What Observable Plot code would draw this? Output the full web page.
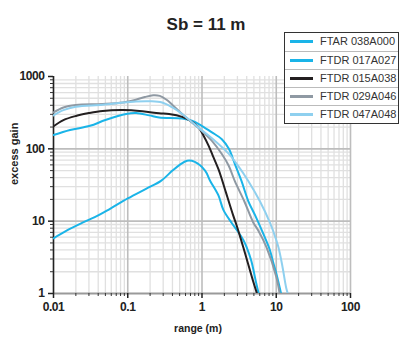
<!DOCTYPE html>
<html>
<head>
<meta charset="utf-8">
<script src="https://cdn.jsdelivr.net/npm/d3@7"></script>
<script src="https://cdn.jsdelivr.net/npm/@observablehq/plot@0.6"></script>
<style>
  html, body { margin: 0; padding: 0; background: #fff; }
  #wrap { position: relative; width: 401px; height: 344px; font-family: "Liberation Sans", Arial, Helvetica, sans-serif; }
  #wrap svg { display: block; }
  [aria-label$="tick label"] { letter-spacing: -0.4px; }
  #legend { position: absolute; left: 284px; top: 32px; width: 115px; background: #fff; border: 1px solid #333; box-sizing: border-box; }
  #legend .row { position: relative; height: 18px; border-top: 1px solid #bbb; box-sizing: border-box; }
  #legend .row:first-child { border-top: none; }
  #legend .sw { position: absolute; left: 5px; top: 7px; width: 23px; height: 3px; }
  #legend .lb { position: absolute; left: 35px; top: 2px; font-size: 11px; line-height: 13px; color: #333; white-space: nowrap; }
</style>
</head>
<body>
<div id="wrap"></div>
<script>
// ---- data ----
const seriesNames = ["FTAR 038A000", "FTDR 017A027", "FTDR 015A038", "FTDR 029A046", "FTDR 047A048"];
const seriesColors = ["#1ab4e8", "#1ab4e8", "#231f20", "#8f99a3", "#8fd0ef"];

const rangeFTAR038A000 = [0.01, 0.0167, 0.031, 0.05, 0.095, 0.13, 0.195, 0.265, 0.54, 0.73, 0.99, 1.36, 1.85, 2.3, 2.8, 3.4, 4.2, 5.2, 7, 8.2, 9, 10, 11.1, 11.6];
const gainFTAR038A000  = [155, 182, 208, 250, 303, 312, 290, 272, 263, 245, 208, 169, 136, 100, 60, 36, 19, 12, 6, 4, 2.8, 1.9, 1.22, 1];

const rangeFTDR017A027 = [0.01, 0.015, 0.025, 0.04, 0.057, 0.1, 0.176, 0.28, 0.4, 0.5, 0.63, 0.8, 1.1, 1.29, 1.67, 1.94, 2.5, 3.1, 3.6, 4.0, 4.6, 5.4, 5.8];
const gainFTDR017A027  = [5.8, 7.4, 9.6, 12, 14.7, 20.6, 28, 36, 50, 60, 68.5, 66, 50, 36, 22.5, 14.3, 9.5, 7, 5.5, 4.35, 2.85, 1.36, 1];

const rangeFTDR015A038 = [0.01, 0.0136, 0.02, 0.03, 0.046, 0.086, 0.158, 0.265, 0.36, 0.54, 0.7, 0.9, 1.05, 1.23, 1.4, 1.67, 1.85, 2.1, 2.63, 2.9, 3.6, 4.0, 4.86, 5.5];
const gainFTDR015A038  = [205, 250, 285, 312, 334, 343, 330, 310, 303, 277, 244, 198, 152, 110, 80, 52, 38, 25, 12, 9, 4.35, 3.0, 1.5, 1];

const rangeFTDR029A046 = [0.01, 0.0136, 0.02, 0.046, 0.086, 0.129, 0.17, 0.22, 0.27, 0.33, 0.4, 0.54, 0.73, 0.99, 1.36, 1.85, 2.3, 2.76, 3.7, 4.9, 5.7, 7.4, 10, 11.1];
const gainFTDR029A046  = [318, 373, 403, 416, 437, 478, 520, 550, 540, 480, 405, 303, 232, 178, 129, 85, 58, 36, 19, 9.6, 7.5, 4.35, 1.7, 1];

const rangeFTDR047A048 = [0.01, 0.0136, 0.02, 0.046, 0.086, 0.129, 0.2, 0.29, 0.4, 0.54, 0.73, 1, 1.36, 2.3, 3, 4.2, 6, 8.2, 10, 10.7, 12, 13.6, 14.3];
const gainFTDR047A048  = [290, 343, 381, 406, 437, 452, 455, 437, 373, 303, 235, 180, 140, 85, 60, 36, 19, 9.6, 5.5, 4.35, 2.5, 1.2, 1];

const xTickValues = [0.01, 0.1, 1, 10, 100];
const xTickLabels = ["0.01", "0.1", "1", "10", "100"];
const yTickValues = [1, 10, 100, 1000];
const yTickLabels = ["1", "10", "100", "1000"];
const titleText = "Sb = 11 m";
const xLabel = "range (m)";
const yLabel = "excess gain";

// ---- build ----
const ranges = [rangeFTAR038A000, rangeFTDR017A027, rangeFTDR015A038, rangeFTDR029A046, rangeFTDR047A048];
const gains = [gainFTAR038A000, gainFTDR017A027, gainFTDR015A038, gainFTDR029A046, gainFTDR047A048];
const rows = [];
seriesNames.forEach((s, i) => ranges[i].forEach((r, j) => rows.push({series: s, r, g: gains[i][j]})));

const xMinor = [];
for (const d of [0.01, 0.1, 1, 10]) for (let k = 2; k <= 9; k++) xMinor.push(+(d * k).toPrecision(3));
const yMinor = [];
for (const d of [1, 10, 100]) for (let k = 2; k <= 9; k++) yMinor.push(d * k);

const bold = {fontWeight: "bold", fill: "#222"};

const chart = Plot.plot({
  width: 401,
  height: 344,
  marginTop: 76,
  marginBottom: 51,
  marginLeft: 53,
  marginRight: 51,
  style: {fontFamily: "'Liberation Sans', Arial, Helvetica, sans-serif", background: "transparent"},
  x: {type: "log", domain: [0.01, 100]},
  y: {type: "log", domain: [1, 1000]},
  color: {domain: seriesNames, range: seriesColors},
  marks: [
    Plot.gridX(xMinor, {stroke: "#e0e0e0", strokeOpacity: 1, strokeWidth: 1.3}),
    Plot.gridY(yMinor, {stroke: "#e0e0e0", strokeOpacity: 1, strokeWidth: 1.3}),
    Plot.gridX(xTickValues, {stroke: "#bdbdbd", strokeOpacity: 1, strokeWidth: 1.6}),
    Plot.gridY(yTickValues.slice(1, 3), {stroke: "#bdbdbd", strokeOpacity: 1, strokeWidth: 1.6}),
    Plot.ruleY([1], {stroke: "#9a9a9a", strokeWidth: 2}),
    Plot.ruleX([0.01], {stroke: "#222", strokeWidth: 1.5}),
    Plot.line(rows, {x: "r", y: "g", z: "series", stroke: "series", strokeWidth: 2, curve: "catmull-rom", clip: true}),
    Plot.axisX(xMinor, {tickSize: 3, tickFormat: () => "", label: null, stroke: "#333"}),
    Plot.axisY(yMinor, {tickSize: 3, tickFormat: () => "", label: null, stroke: "#333"}),
    Plot.axisX(xTickValues, {tickSize: 5, tickPadding: 4, tickFormat: (d) => xTickLabels[xTickValues.indexOf(d)], label: null, fontSize: 12, ...bold, stroke: "#222", strokeWidth: 1.5}),
    Plot.axisY(yTickValues, {tickSize: 5, tickPadding: 4, tickFormat: (d) => yTickLabels[yTickValues.indexOf(d)], label: null, fontSize: 12, ...bold, stroke: "#222", strokeWidth: 1.5}),
    Plot.text([titleText], {frameAnchor: "top", dx: 4, dy: -59, fontSize: 17, fontWeight: "bold", fill: "#222"}),
    Plot.text([xLabel], {frameAnchor: "bottom", dx: -4, dy: 38, fontSize: 10.5, fontWeight: "bold", fill: "#222"}),
    Plot.text([yLabel], {frameAnchor: "left", dx: -39, dy: 0, rotate: -90, fontSize: 11, fontWeight: "bold", fill: "#222"})
  ]
});

const wrap = document.getElementById("wrap");
wrap.appendChild(chart);

const legend = document.createElement("div");
legend.id = "legend";
seriesNames.forEach((s, i) => {
  const row = document.createElement("div");
  row.className = "row";
  const sw = document.createElement("div");
  sw.className = "sw";
  sw.style.background = seriesColors[i];
  const lb = document.createElement("div");
  lb.className = "lb";
  lb.textContent = s;
  row.appendChild(sw);
  row.appendChild(lb);
  legend.appendChild(row);
});
wrap.appendChild(legend);
</script>
</body>
</html>
